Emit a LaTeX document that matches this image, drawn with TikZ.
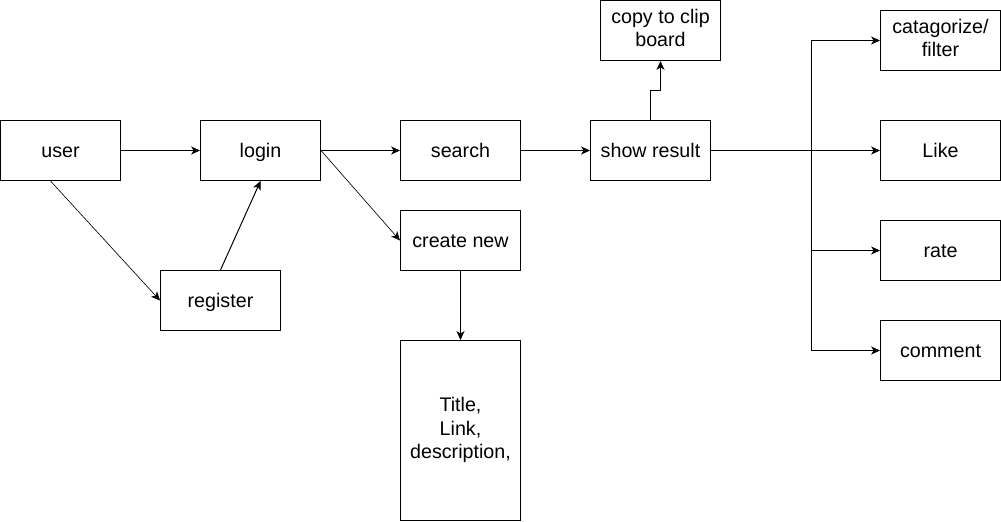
\documentclass[tikz,border=0pt]{standalone}
\usepackage{fontspec}
\setmainfont{Liberation Sans}
\usetikzlibrary{arrows.meta}
\begin{document}
\begin{tikzpicture}[x=0.025cm, y=-0.025cm,
    box/.style={draw, line width=0.7pt, minimum width=3cm, minimum height=1.5cm,
        inner sep=2pt, align=center, font=\fontsize{14}{17}\selectfont,
        execute at begin node={\rule[-3.7pt]{0pt}{17pt}},
        execute at end node={\rule[-3.7pt]{0pt}{3.7pt}}},
    arrow/.style={-{Stealth[length=2.2mm, width=2mm, inset=0.6mm]}, line width=0.7pt},
    thinarrow/.style={-{Stealth[length=2.2mm, width=2mm, inset=0.6mm]}, line width=0.45pt}]
    \useasboundingbox (-0.5,-0.5) rectangle (1000.5,520.5);

    % Left part
    \node[box] (user) at (60,150) {user};
    \node[box] (login) at (260,150) {login};
    \node[box] (register) at (220,300) {register};

    % Middle part
    \node[box] (search) at (460,150) {search};
    \node[box] (create) at (460,240) {create new};
    \node[box, minimum height=4.5cm] (fields) at (460,430) {Title,\\Link,\\description,};
    \node[box] (show) at (650,150) {show result};
    \node[box] (copy) at (660,30) {copy to clip\\board};

    % Right part
    \node[box] (filter) at (940,40) {catagorize/\\filter};
    \node[box] (like) at (940,150) {Like};
    \node[box] (rate) at (940,250) {rate};
    \node[box] (comment) at (940,350) {comment};

    % Connectors
    \draw[arrow] (user) -- (login);
    \draw[thinarrow] ([xshift=-0.25cm]user.south) -- (register.west);
    \draw[arrow] (register.north) -- (login.south);
    \draw[arrow] (login) -- (search);
    \draw[thinarrow] (login.east) -- (create.west);
    \draw[arrow] (create) -- (fields);
    \draw[arrow] (search) -- (show);
    \draw[arrow] (show.north) -- ++(0,0.75cm) -| (copy.south);

    % Fan out from show result
    \draw[arrow] (show.east) -- ++(2.5cm,0) |- (filter.west);
    \draw[arrow] (show) -- (like);
    \draw[arrow] (show.east) -- ++(2.5cm,0) |- (rate.west);
    \draw[arrow] (show.east) -- ++(2.5cm,0) |- (comment.west);
\end{tikzpicture}
\end{document}
